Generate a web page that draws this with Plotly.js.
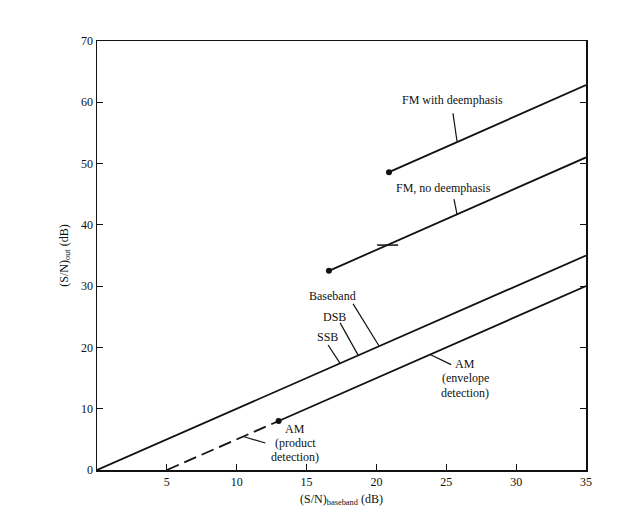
<!DOCTYPE html>
<html><head><meta charset="utf-8">
<script src="https://cdn.plot.ly/plotly-3.0.1.min.js"></script>
<style>html,body{margin:0;padding:0;background:#fff}</style>
</head><body><div id="chart" style="width:634px;height:522px"></div>
<script>
// Data
const basebandX = [0, 35];
const basebandY = [0, 35];
const amProductX = [5, 13];
const amProductY = [0, 8];
const amEnvelopeX = [13, 35];
const amEnvelopeY = [8, 30];
const fmNoDeemphX = [16.6, 35];
const fmNoDeemphY = [32.5, 51];
const fmDeemphX = [20.9, 35];
const fmDeemphY = [48.6, 62.8];
const dotX = [13, 16.6, 20.9];
const dotY = [8, 32.5, 48.6];
const thresholdX = [20.8];
const thresholdY = [36.7];
const xTicks = [5, 10, 15, 20, 25, 30, 35];
const yTicks = [0, 10, 20, 30, 40, 50, 60, 70];

// Labels: [text, x, y]
const labels = [
  ['FM with deemphasis', 25.48, 60.4],
  ['FM, no deemphasis', 24.78, 46.0],
  ['Baseband', 16.83, 28.4],
  ['DSB', 17.0, 25.0],
  ['SSB', 16.47, 21.7],
  ['AM', 26.35, 17.3],
  ['(envelope', 26.34, 14.95],
  ['detection)', 26.34, 12.6],
  ['AM', 14.2, 6.7],
  ['(product', 14.2, 4.45],
  ['detection)', 14.2, 2.2]
];
// Leader lines: [x0, y0, x1, y1]
const leaders = [
  [25.48, 58.2, 25.77, 53.6],
  [25.55, 44.2, 25.77, 41.7],
  [18.33, 27.1, 20.2, 20.2],
  [17.40, 24.0, 18.7, 18.7],
  [16.54, 20.4, 17.4, 17.4],
  [23.84, 18.84, 25.35, 17.2],
  [10.47, 5.47, 12.05, 4.4]
];

const lineStyle = {color: '#111', width: 1.8};
const traces = [
  {x: basebandX, y: basebandY, mode: 'lines', line: lineStyle, name: 'Baseband / DSB / SSB'},
  {x: amProductX, y: amProductY, mode: 'lines', line: {color: '#111', width: 1.8, dash: '13px,6px'}, name: 'AM product'},
  {x: amEnvelopeX, y: amEnvelopeY, mode: 'lines', line: lineStyle, name: 'AM envelope'},
  {x: fmNoDeemphX, y: fmNoDeemphY, mode: 'lines', line: lineStyle, name: 'FM no deemphasis'},
  {x: fmDeemphX, y: fmDeemphY, mode: 'lines', line: lineStyle, name: 'FM with deemphasis'},
  {x: dotX, y: dotY, mode: 'markers', marker: {color: '#111', size: 6}, name: 'thresholds'},
  {x: thresholdX, y: thresholdY, mode: 'markers', marker: {symbol: 'line-ew', size: 15, line: {color: '#111', width: 1.5}}, name: 'mark'}
];

const fnt = {family: 'Liberation Serif, Times New Roman, serif', size: 12, color: '#111'};

const layout = {
  width: 634, height: 522,
  margin: {l: 97, r: 48, t: 41, b: 52},
  paper_bgcolor: '#fff', plot_bgcolor: '#fff',
  showlegend: false,
  font: fnt,
  xaxis: {
    range: [0, 35], tickvals: xTicks, ticktext: xTicks.map(String),
    ticks: 'inside', ticklen: 6, tickwidth: 1.2, tickcolor: '#111',
    showline: true, linecolor: '#111', linewidth: 1.5, mirror: true,
    showgrid: false, zeroline: false, tickfont: fnt,
    title: {text: '(S/N)<sub>baseband</sub> (dB)', font: fnt, standoff: 6}
  },
  yaxis: {
    range: [0, 70], tickvals: yTicks, ticktext: yTicks.map(String),
    ticks: 'inside', ticklen: 6, tickwidth: 1.2, tickcolor: '#111',
    showline: true, linecolor: '#111', linewidth: 1.5, mirror: 'ticks',
    showgrid: false, zeroline: false, tickfont: fnt,
    title: {text: '(S/N)<sub>out</sub> (dB)', font: fnt, standoff: 10}
  },
  annotations: labels.map(([t, x, y]) => ({
    x, y, text: t, showarrow: false, font: fnt, xanchor: 'center', yanchor: 'middle',
    borderpad: 0
  })),
  shapes: leaders.map(([x0, y0, x1, y1]) => ({
    type: 'line', xref: 'x', yref: 'y', x0, y0, x1, y1,
    line: {color: '#111', width: 1.2}
  }))
};
Plotly.newPlot('chart', traces, layout, {displayModeBar: false, staticPlot: true});
</script></body></html>
